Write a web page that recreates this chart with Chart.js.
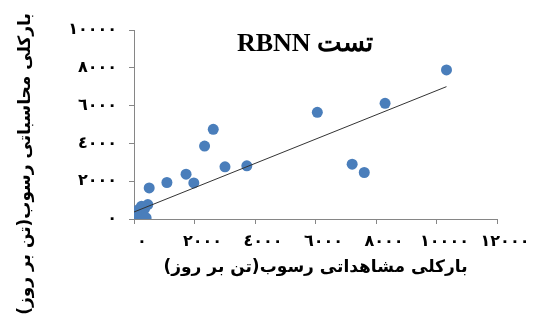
<!DOCTYPE html>
<html lang="fa">
<head>
<meta charset="utf-8">
<script src="https://cdn.jsdelivr.net/npm/chart.js@4/dist/chart.umd.min.js"></script>
<style>
  html, body { margin: 0; padding: 0; background: #ffffff; }
  #wrap { width: 553px; height: 320px; }
</style>
</head>
<body>
<div id="wrap"><canvas id="c" width="553" height="320" dir="rtl"></canvas></div>
<script>
// Observed vs. computed daily sediment load (tonnes/day), RBNN test set
const observedLoad = [10330, 8300, 6060, 2620, 2333, 7212, 7612, 3008, 3730, 1721, 1977, 1088, 502, 456,
                      0, 50, 100, 200, 150, 300, 350, 400, 80, 250];
const computedLoad = [7888, 6122, 5645, 4743, 3857, 2902, 2461, 2759, 2812, 2371, 1910, 1931, 1645, 764,
                      0, 150, 50, 300, 500, 100, 550, 60, 350, 680];

// Linear trend line end points
const trendX = [0, 10330];
const trendY = [371, 7003];

// Axis tick labels (Arabic-Indic digits)
const xTickValues = [0, 2000, 4000, 6000, 8000, 10000, 12000];
const xTickLabels = ['٠', '٢٠٠٠', '٤٠٠٠', '٦٠٠٠', '٨٠٠٠', '١٠٠٠٠', '١٢٠٠٠'];
const yTickValues = [0, 2000, 4000, 6000, 8000, 10000];
const yTickLabels = ['٠', '٢٠٠٠', '٤٠٠٠', '٦٠٠٠', '٨٠٠٠', '١٠٠٠٠'];

const chartTitle = 'تست RBNN';
const xTitle = 'بارکلی مشاهداتی رسوب(تن بر روز)';
const yTitle = 'بارکلی محاسباتی رسوب(تن بر روز)';

const AXIS_GREY = '#868686';
const ARABIC_FONT = '"DejaVu Sans", "Noto Sans", sans-serif';

function labelFor(values, labels) {
  return function (v) {
    const i = values.indexOf(v);
    return i >= 0 ? labels[i] : '';
  };
}

// Chart title and rotated value-axis title drawn directly on the canvas
const textPlugin = {
  id: 'extraText',
  afterDraw(chart) {
    const ctx = chart.ctx;
    ctx.save();
    ctx.direction = 'rtl';
    ctx.fillStyle = '#000000';
    ctx.textAlign = 'center';
    ctx.textBaseline = 'middle';
    ctx.font = 'bold 26px "Liberation Serif", "DejaVu Serif", serif';
    ctx.fillText(chartTitle, 305, 44);
    ctx.restore();

    ctx.save();
    ctx.direction = 'rtl';
    ctx.fillStyle = '#000000';
    ctx.textAlign = 'center';
    ctx.textBaseline = 'middle';
    ctx.font = 'bold 17px ' + ARABIC_FONT;
    ctx.translate(26, 164);
    ctx.rotate(-Math.PI / 2);
    ctx.fillText(yTitle, 0, 0);
    ctx.restore();
  }
};

new Chart(document.getElementById('c'), {
  type: 'scatter',
  data: {
    datasets: [
      {
        label: 'trend',
        data: trendX.map((x, i) => ({ x: x, y: trendY[i] })),
        showLine: true,
        borderColor: '#333333',
        borderWidth: 1,
        pointRadius: 0,
        fill: false
      },
      {
        label: 'RBNN',
        data: observedLoad.map((x, i) => ({ x: x, y: computedLoad[i] })),
        backgroundColor: '#4A7EBB',
        borderColor: '#4A7EBB',
        borderWidth: 0,
        pointRadius: 5.5,
        pointHoverRadius: 5.5
      }
    ]
  },
  options: {
    responsive: false,
    animation: false,
    events: [],
    layout: { padding: { top: 30, right: 56, bottom: 0, left: 0 } },
    plugins: {
      legend: { display: false },
      tooltip: { enabled: false },
      title: { display: false }
    },
    scales: {
      x: {
        type: 'linear',
        min: 0,
        max: 12000,
        afterBuildTicks(scale) { scale.ticks = xTickValues.map(v => ({ value: v })); },
        afterFit(scale) { scale.height = 101; },
        grid: { display: true, drawOnChartArea: false, drawTicks: true, tickLength: 5, color: AXIS_GREY },
        border: { display: true, color: AXIS_GREY, width: 1 },
        ticks: {
          callback: labelFor(xTickValues, xTickLabels),
          color: '#000000',
          font: { family: ARABIC_FONT, size: 16, weight: 'bold' },
          padding: 8,
          labelOffset: 8,
          maxRotation: 0,
          autoSkip: false
        },
        title: {
          display: true,
          text: xTitle,
          color: '#000000',
          font: { family: ARABIC_FONT, size: 17, weight: 'bold' },
          padding: { top: 0, bottom: 42 }
        }
      },
      y: {
        type: 'linear',
        min: 0,
        max: 10000,
        afterBuildTicks(scale) { scale.ticks = yTickValues.map(v => ({ value: v })); },
        afterFit(scale) { scale.width = 134; },
        grid: { display: true, drawOnChartArea: false, drawTicks: true, tickLength: 5, color: AXIS_GREY },
        border: { display: true, color: AXIS_GREY, width: 1 },
        ticks: {
          callback: labelFor(yTickValues, yTickLabels),
          color: '#000000',
          font: { family: ARABIC_FONT, size: 16, weight: 'bold' },
          padding: 12,
          autoSkip: false
        }
      }
    }
  },
  plugins: [textPlugin]
});
</script>
</body>
</html>
